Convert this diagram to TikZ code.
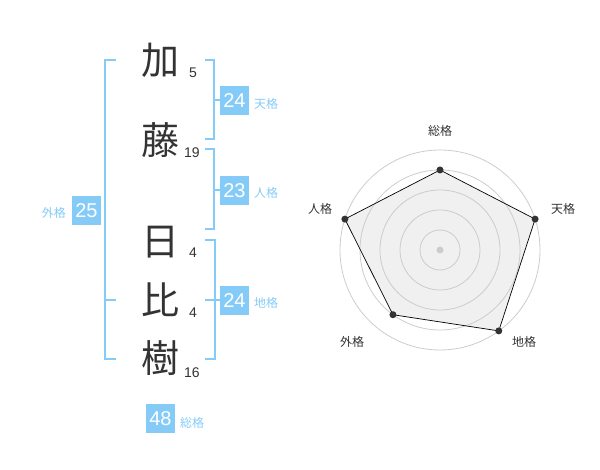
\documentclass[tikz,border=0pt]{standalone}
\usepackage{fontspec}
\setmainfont{Liberation Sans}
\newfontfamily\jp{Noto Sans CJK JP}
\definecolor{sky}{HTML}{85CBF8}
\definecolor{ink}{HTML}{333333}
\definecolor{ring}{HTML}{CCCCCC}
\definecolor{area}{HTML}{F0F0F0}
\begin{document}
\begin{tikzpicture}[x=1pt,y=-1pt,
  kanji/.style={font=\jp\fontsize{38}{38}\selectfont, text=ink, inner sep=0pt},
  stroke/.style={font=\fontsize{14}{14}\selectfont, text=ink, inner sep=0pt},
  valbox/.style={fill=sky, text=white, minimum width=29pt, minimum height=29pt, inner sep=0pt, font=\fontsize{20}{20}\selectfont},
  boxlabel/.style={font=\jp\fontsize{12}{12}\selectfont, text=sky, inner sep=0pt},
  bracket/.style={draw=sky, line width=2pt},
  axislabel/.style={font=\jp\fontsize{12}{12}\selectfont, text=ink, inner sep=0pt},
  dot/.style={circle, fill=ink, inner sep=0pt, minimum size=7pt},
  ringline/.style={draw=ring, line width=0.8pt}
]
\useasboundingbox (0,0) rectangle (600,470);
% name characters
\node[kanji] (k1) at (160,60) {加};
\node[kanji] (k2) at (160,140) {藤};
\node[kanji] (k3) at (160,242) {日};
\node[kanji] (k4) at (160,300) {比};
\node[kanji] (k5) at (160,358) {樹};
\node[stroke] (s1) at (193,73) {5};
\node[stroke] (s2) at (192,153) {19};
\node[stroke] (s3) at (193,253) {4};
\node[stroke] (s4) at (193,313) {4};
\node[stroke] (s5) at (192,373) {16};
% brackets
\draw[bracket] (116,60) -- (105,60) -- (105,359) -- (116,359);
\draw[bracket] (105,300) -- (116,300);
\draw[bracket] (205,60) -- (214,60) -- (214,139) -- (205,139);
\draw[bracket] (205,149) -- (214,149) -- (214,229) -- (205,229);
\draw[bracket] (205,240) -- (215,240) -- (215,359) -- (205,359);
\draw[bracket] (205,300) -- (215,300);
\draw[bracket] (214,100) -- (220,100);
\draw[bracket] (214,190) -- (220,190);
\draw[bracket] (215,300) -- (220,300);
% value boxes
\node[valbox] (ten) at (234.5,100.5) {24};
\node[boxlabel, anchor=west] (tenl) at (254,104) {天格};
\node[valbox] (jin) at (234.5,190.5) {23};
\node[boxlabel, anchor=west] (jinl) at (254,193) {人格};
\node[valbox] (chi) at (234.5,300.5) {24};
\node[boxlabel, anchor=west] (chil) at (254,303) {地格};
\node[valbox] (gai) at (86.5,211) {25};
\node[boxlabel, anchor=east] (gail) at (66,213) {外格};
\node[valbox] (sou) at (160.5,418.5) {48};
\node[boxlabel, anchor=west] (soul) at (180,423) {総格};
% radar chart
\coordinate (c) at (440,250);
\coordinate (pS) at (440,170);
\coordinate (pT) at ({440+100*cos(18)},{250-100*sin(18)});
\coordinate (pC) at ({440+100*cos(54)},{250+100*sin(54)});
\coordinate (pG) at ({440-80*cos(54)},{250+80*sin(54)});
\coordinate (pJ) at ({440-100*cos(18)},{250-100*sin(18)});
\fill[area] (pS) -- (pT) -- (pC) -- (pG) -- (pJ) -- cycle;
\foreach \r in {20,40,60,80,100} \draw[ringline] (c) circle[radius=\r];
\draw[black, line width=0.7pt] (pS) -- (pT) -- (pC) -- (pG) -- (pJ) -- cycle;
\foreach \p in {pS,pT,pC,pG,pJ} \node[dot] at (\p) {};
\node[circle, fill=ring, inner sep=0pt, minimum size=7pt] (cdot) at (c) {};
\node[axislabel] (lS) at (440,131) {総格};
\node[axislabel] (lT) at (563,209) {天格};
\node[axislabel] (lJ) at (320,209) {人格};
\node[axislabel] (lC) at (524,342) {地格};
\node[axislabel] (lG) at (352,342) {外格};
\end{tikzpicture}
\end{document}
